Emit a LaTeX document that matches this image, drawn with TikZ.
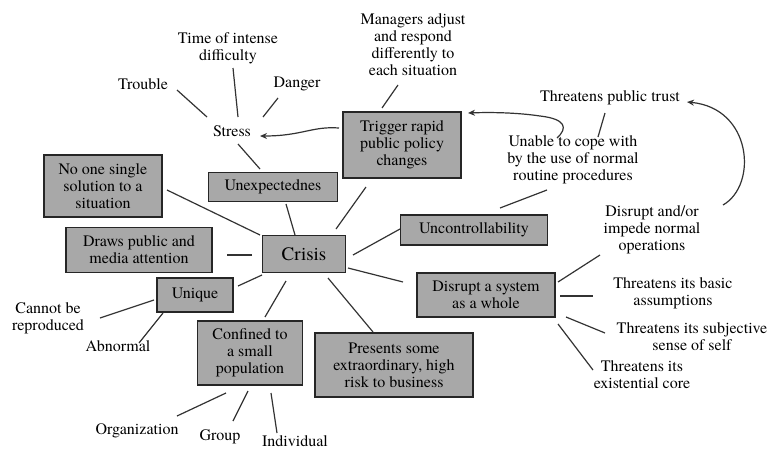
\documentclass[tikz,border=0pt]{standalone}
\usepackage{fontspec}
\IfFontExistsTF{texgyretermes-regular.otf}
  {\setmainfont{texgyretermes}[Extension=.otf,UprightFont=*-regular,BoldFont=*-bold,ItalicFont=*-italic,BoldItalicFont=*-bolditalic]}
  {}
\usetikzlibrary{calc,arrows.meta}
\begin{document}
\begin{tikzpicture}[x=1pt,y=-1pt,
  box/.style={draw=black!85,line width=1.3pt,fill=black!34,align=center,inner sep=0pt,font=\rmfamily\fontsize{16}{17}\selectfont},
  lbl/.style={align=center,inner sep=1pt,font=\rmfamily\fontsize{16}{17}\selectfont},
  ln/.style={draw=black!80,line width=1.2pt},
  arr/.style={ln,-{Stealth[length=7pt,width=6pt]}}]
\useasboundingbox (0,0) rectangle (771,450);
% boxes
\node[box,minimum width=118,minimum height=62] (noone) at (103,186) {No one single\\solution to a\\situation};
\node[box,minimum width=129,minimum height=29] (unexp) at (273,187) {Unexpectednes};
\node[box,minimum width=118,minimum height=66] (trigger) at (402,145) {Trigger rapid\\public policy\\changes};
\node[box,minimum width=146,minimum height=45] (draws) at (139,250) {Draws public and\\media attention};
\node[box,minimum width=83,minimum height=37,font=\rmfamily\fontsize{19}{20}\selectfont] (crisis) at (304,254) {Crisis};
\node[box,minimum width=76,minimum height=34] (unique) at (195,295) {Unique};
\node[box,minimum width=105,minimum height=64] (confined) at (250,353) {Confined to\\a small\\population};
\node[box,minimum width=158,minimum height=64] (presents) at (394,365) {Presents some\\extraordinary, high\\risk to business};
\node[box,minimum width=147,minimum height=30] (uncontrol) at (474,230) {Uncontrollability};
\node[box,minimum width=138,minimum height=44] (disrupt) at (486,295) {Disrupt a system\\as a whole};
% labels
\node[lbl] (stress) at (232,131) {Stress};
\node[lbl] (trouble) at (143,84) {Trouble};
\node[lbl] (time) at (228,48) {Time of intense\\difficulty};
\node[lbl] (danger) at (297,84) {Danger};
\node[lbl] (managers) at (413,45) {Managers adjust\\and respond\\differently to\\each situation};
\node[lbl] (trust) at (610,98) {Threatens public trust};
\node[lbl] (unable) at (573,160) {Unable to cope with\\by the use of normal\\routine procedures};
\node[lbl] (impede) at (652,230) {Disrupt and/or\\impede normal\\operations};
\node[lbl] (basic) at (673,293) {Threatens its basic\\assumptions};
\node[lbl] (subj) at (692,337) {Threatens its subjective\\sense of self};
\node[lbl] (exist) at (642,375) {Threatens its\\existential core};
\node[lbl] (cannot) at (48,318) {Cannot be\\reproduced};
\node[lbl] (abnormal) at (118,346) {Abnormal};
\node[lbl] (org) at (137,431) {Organization};
\node[lbl] (group) at (220,437) {Group};
\node[lbl] (indiv) at (295,441) {Individual};
% connectors
\draw[ln] ($(trouble)+(34,6)$) -- ($(stress)+(-25,-14)$);
\draw[ln] ($(time)+(5,20)$) -- ($(stress)+(6,-14)$);
\draw[ln] ($(danger)+(-19,14)$) -- ($(stress)+(31,-14)$);
\draw[ln] ($(stress)+(6,13)$) -- ($(unexp)+(-13,-18)$);
\draw[ln] ($(managers)+(-15,40)$) -- ($(trigger)+(-20,-37)$);
\draw[arr] ($(trigger)+(-63,-17)$) .. controls (312,126) and (302,136) .. ($(stress)+(28,5)$);
\draw[arr] ($(unable)+(-16,-22)$) .. controls (568,128) and (566,119) .. (540,116) .. controls (520,113) and (495,112) .. ($(trigger)+(66,-32)$);
\draw[ln] ($(trust)+(-5,15)$) -- ($(unable)+(25,-23)$);
\draw[arr] ($(impede)+(71,-25)$) .. controls (758,185) and (752,108) .. ($(trust)+(77,4)$);
\draw[ln] ($(unable)+(-26,30)$) -- ($(uncontrol)+(26,-22)$);
\draw[ln] ($(noone)+(64,4)$) -- ($(crisis)+(-44,-19)$);
\draw[ln] ($(unexp)+(13,17)$) -- ($(crisis)+(-9,-19)$);
\draw[ln] ($(trigger)+(-36,42)$) -- ($(crisis)+(32,-25)$);
\draw[ln] ($(crisis)+(49,1)$) -- ($(uncontrol)+(-74,-1)$);
\draw[ln] ($(crisis)+(44,14)$) -- ($(disrupt)+(-83,-13)$);
\draw[ln] ($(crisis)+(24,24)$) -- ($(presents)+(-21,-33)$);
\draw[ln] ($(crisis)+(-18,27)$) -- ($(confined)+(15,-36)$);
\draw[ln] ($(crisis)+(-42,21)$) -- ($(unique)+(43,-9)$);
\draw[ln] ($(crisis)+(-52,1)$) -- ($(draws)+(88,5)$);
\draw[ln] ($(unique)+(-41,5)$) -- ($(cannot)+(52,0)$);
\draw[ln] ($(unique)+(-32,18)$) -- ($(abnormal)+(21,-3)$);
\draw[ln] ($(confined)+(-24,40)$) -- ($(org)+(40,-15)$);
\draw[ln] ($(confined)+(-2,38)$) -- ($(group)+(13,-16)$);
\draw[ln] ($(confined)+(21,40)$) -- ($(indiv)+(-18,-8)$);
\draw[ln] ($(disrupt)+(72,-13)$) -- ($(impede)+(-52,25)$);
\draw[ln] ($(disrupt)+(74,1)$) -- ($(basic)+(-80,3)$);
\draw[ln] ($(disrupt)+(80,22)$) -- ($(subj)+(-87,-4)$);
\draw[ln] ($(disrupt)+(72,29)$) -- ($(exist)+(-49,-5)$);
\end{tikzpicture}
\end{document}
